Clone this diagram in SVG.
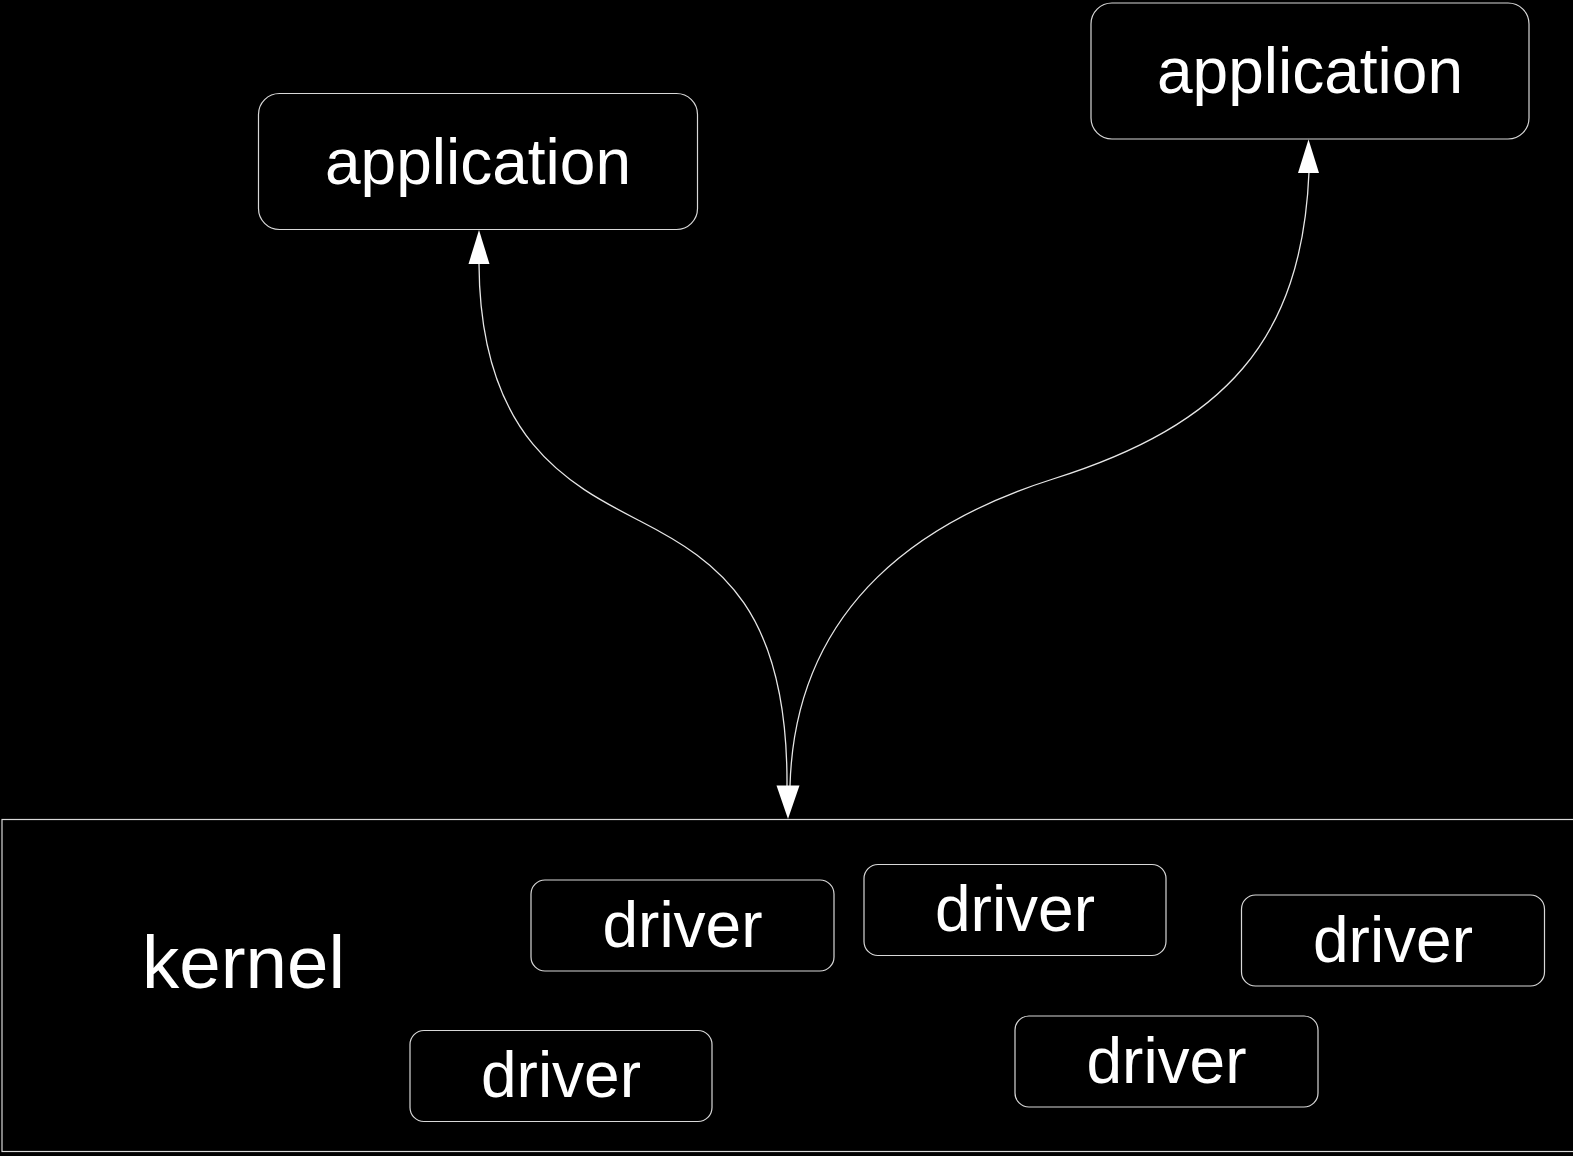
<svg xmlns="http://www.w3.org/2000/svg" width="1573" height="1156" viewBox="0 0 1573 1156">
  <style>
    .box { fill: #000; stroke: #d8d8d8; stroke-width: 1.2; }
    .lbl { fill: #fff; font-family: "Liberation Sans", Arial, sans-serif; text-anchor: middle; }
    .edge { fill: none; stroke: #e6e6e6; stroke-width: 1.3; }
    .head { fill: #fff; stroke: none; }
  </style>
  <rect x="0" y="0" width="1573" height="1156" fill="#000"/>

  <!-- kernel container -->
  <g id="kernel">
    <rect class="box" x="2" y="819.5" width="1590" height="332" rx="0"/>
    <text class="lbl" x="243.5" y="987.5" font-size="74.5">kernel</text>
  </g>

  <!-- applications -->
  <g id="app-left">
    <rect class="box" x="258.5" y="93.5" width="439" height="136" rx="21"/>
    <text class="lbl" x="478" y="184" font-size="64">application</text>
  </g>
  <g id="app-right">
    <rect class="box" x="1091" y="3" width="438" height="136" rx="21"/>
    <text class="lbl" x="1310" y="93" font-size="64">application</text>
  </g>

  <!-- drivers -->
  <g id="driver-1">
    <rect class="box" x="531" y="880" width="303" height="91" rx="14"/>
    <text class="lbl" x="682.5" y="946.5" font-size="64">driver</text>
  </g>
  <g id="driver-2">
    <rect class="box" x="864" y="864.5" width="302" height="91" rx="14"/>
    <text class="lbl" x="1015" y="931" font-size="64">driver</text>
  </g>
  <g id="driver-3">
    <rect class="box" x="1241.5" y="895" width="303" height="91" rx="14"/>
    <text class="lbl" x="1393" y="961.5" font-size="64">driver</text>
  </g>
  <g id="driver-4">
    <rect class="box" x="410" y="1030.5" width="302" height="91" rx="14"/>
    <text class="lbl" x="561" y="1097" font-size="64">driver</text>
  </g>
  <g id="driver-5">
    <rect class="box" x="1015" y="1016" width="303" height="91" rx="14"/>
    <text class="lbl" x="1166.5" y="1082.5" font-size="64">driver</text>
  </g>

  <!-- connectors: both applications to the kernel, arrowheads at both ends -->
  <g id="connectors">
    <path class="edge" d="M479,264 C480,440 570,485 640,521 C720,562 788,610 787,786"/>
    <path class="edge" d="M1309,172 C1302,340 1225,425 1053,479 C930,518 795,600 790,786"/>
    <polygon class="head" points="479,230 468.5,264 489.5,264"/>
    <polygon class="head" points="1308.5,139.5 1298,173 1319,173"/>
    <polygon class="head" points="788,819 776.5,785.5 799.5,785.5"/>
  </g>
</svg>
